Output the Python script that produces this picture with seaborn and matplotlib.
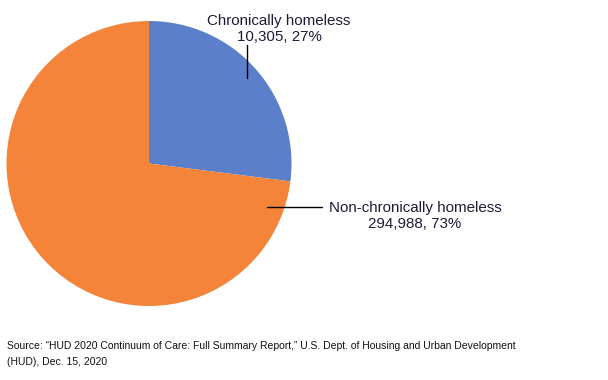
import matplotlib
matplotlib.use("Agg")
import matplotlib.pyplot as plt
import seaborn as sns

# slice shares as drawn, plus the counts shown in the labels
categories = ["Chronically homeless", "Non-chronically homeless"]
shares = [27, 73]
counts = ["10,305", "294,988"]
colors = ["#5B7FCA", "#F3843A"]
source = ("Source: \u201cHUD 2020 Continuum of Care: Full Summary Report,\u201d U.S. Dept. of Housing and Urban Development\n"
          "(HUD), Dec. 15, 2020")

sns.set_theme(style="white")
plt.rcParams["font.family"] = ["Liberation Sans", "DejaVu Sans"]

W, H = 608, 380
fig = plt.figure(figsize=(W / 100, H / 100), dpi=100)
ax = fig.add_axes([0, 0, 1, 1])
ax.axis("off")

ax.pie(shares, colors=colors, startangle=90, counterclock=False,
       center=(149, H - 163.5), radius=142.5,
       wedgeprops=dict(linewidth=0))
ax.set_xlim(0, W)
ax.set_ylim(0, H)
ax.set_aspect("equal")

txt_color = "#1c1c3a"
# label for chronically homeless
ax.text(279, H - 29, f"{categories[0]}\n{counts[0]}, {shares[0]}%",
        ha="center", va="center", fontsize=10.9, color=txt_color, linespacing=1.2)
ax.plot([247, 247], [H - 45, H - 78], color="black", lw=1)

# label for non-chronically homeless
ax.text(415, H - 216, f"{categories[1]}\n{counts[1]}, {shares[1]}%",
        ha="center", va="center", fontsize=10.9, color=txt_color, linespacing=1.2)
ax.plot([267, 322], [H - 207, H - 207], color="black", lw=1)

ax.text(7, H - 354, source, ha="left", va="center", fontsize=7.5,
        color="#111111", linespacing=1.65)

fig.savefig("out.png", dpi=100)
